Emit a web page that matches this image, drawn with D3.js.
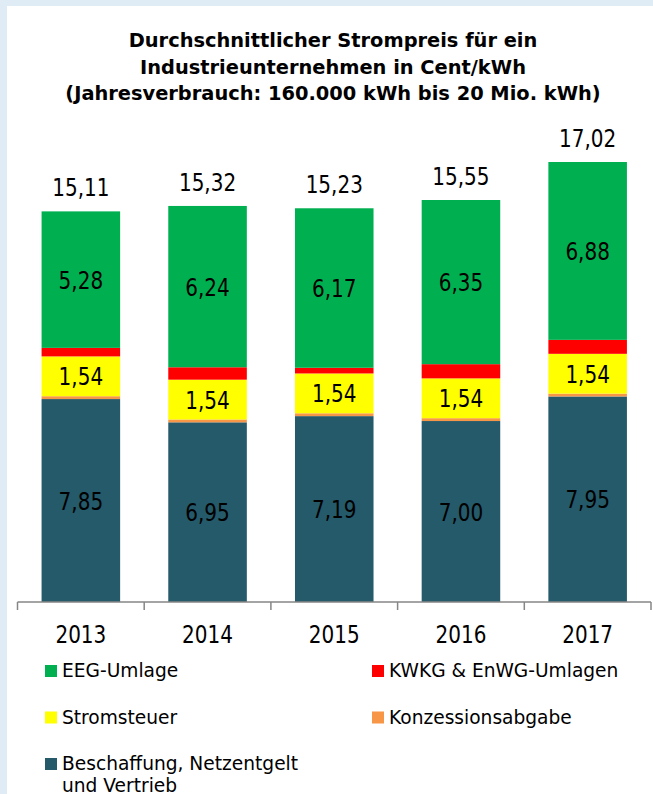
<!DOCTYPE html>
<html>
<head>
<meta charset="utf-8">
<script src="https://cdn.jsdelivr.net/npm/d3@7"></script>
<style>
  body { margin: 0; background: #dfebf5; }
  svg { display: block; }
</style>
</head>
<body>
<div id="chart"></div>
<script>
// data
var years = ["2013", "2014", "2015", "2016", "2017"];
var beschaffung = [7.85, 6.95, 7.19, 7.00, 7.95];
var konzession = [0.11, 0.11, 0.11, 0.11, 0.11];
var stromsteuer = [1.54, 1.54, 1.54, 1.54, 1.54];
var kwkg = [0.33, 0.48, 0.22, 0.55, 0.54];
var eeg = [5.28, 6.24, 6.17, 6.35, 6.88];
var totals = [15.11, 15.32, 15.23, 15.55, 17.02];

var titleLines = ["Durchschnittlicher Strompreis für ein",
                  "Industrieunternehmen in Cent/kWh",
                  "(Jahresverbrauch: 160.000 kWh bis 20 Mio. kWh)"];

var series = [
  {key: "beschaffung", name: "Beschaffung, Netzentgelt|und Vertrieb", values: beschaffung, color: "#245a6a", label: true},
  {key: "konzession", name: "Konzessionsabgabe", values: konzession, color: "#f79646", label: false},
  {key: "stromsteuer", name: "Stromsteuer", values: stromsteuer, color: "#ffff00", label: true},
  {key: "kwkg", name: "KWKG & EnWG-Umlagen", values: kwkg, color: "#ff0000", label: false},
  {key: "eeg", name: "EEG-Umlage", values: eeg, color: "#00b050", label: true}
];

var W = 653, H = 794;
var font = "Tahoma, 'DejaVu Sans', Verdana, sans-serif";
var fmt = function(v){ return d3.format(".2f")(v).replace(".", ","); };

var svg = d3.select("#chart").append("svg")
    .attr("width", W)
    .attr("height", H);

// white panel inside the light blue frame
svg.append("rect")
    .attr("x", 7).attr("y", 6)
    .attr("width", W - 7).attr("height", H - 6)
    .attr("fill", "#ffffff");

// text is narrower in the reference, so squeeze it horizontally
function addText(g, x, y, txt, size, weight, anchor, sx){
  return g.append("text")
      .attr("transform", "translate(" + x + "," + y + ") scale(" + (sx || 0.8) + ",1)")
      .attr("text-anchor", anchor || "middle")
      .style("font-family", font)
      .style("font-size", size + "px")
      .style("font-weight", weight || "normal")
      .attr("fill", "#000")
      .text(txt);
}

// title
titleLines.forEach(function(t, i){
  addText(svg, 333, 47 + i * 26.5, t, 20, "bold", "middle", 0.97);
});

// scales
var x = d3.scaleBand()
    .domain(years)
    .range([17.5, 651]);

var y = d3.scaleLinear()
    .domain([0, 17.02])
    .range([602, 162]);

var barW = x.bandwidth() * 0.62;

// stack
var table = years.map(function(yr, i){
  var row = {year: yr};
  series.forEach(function(s){ row[s.key] = s.values[i]; });
  return row;
});
var stacked = d3.stack().keys(series.map(function(s){ return s.key; }))(table);

var layers = svg.selectAll("g.layer")
    .data(stacked)
    .enter()
    .append("g")
      .attr("class", "layer")
      .attr("fill", function(d, i){ return series[i].color; });

layers.selectAll("rect")
    .data(function(d){ return d; })
    .enter()
    .append("rect")
      .attr("x", function(d){ return x(d.data.year) + (x.bandwidth() - barW) / 2; })
      .attr("y", function(d){ return y(d[1]); })
      .attr("width", barW)
      .attr("height", function(d){ return y(d[0]) - y(d[1]); });

// segment labels
stacked.forEach(function(layer, i){
  if (!series[i].label) return;
  layer.forEach(function(d){
    var cx = x(d.data.year) + x.bandwidth() / 2;
    var cy = (y(d[0]) + y(d[1])) / 2;
    addText(svg, cx, cy + 9, fmt(d[1] - d[0]), 25);
  });
});

// totals above bars
years.forEach(function(yr, i){
  addText(svg, x(yr) + x.bandwidth() / 2, y(totals[i]) - 15, fmt(totals[i]), 25);
});

// x axis
var axis = svg.append("g")
    .attr("transform", "translate(0," + y(0) + ")");
axis.append("line")
    .attr("x1", 17.5).attr("x2", 651)
    .attr("stroke", "#868686").attr("stroke-width", 1.5);
axis.selectAll("line.tick")
    .data(years.concat(["end"]))
    .enter()
    .append("line")
      .attr("class", "tick")
      .attr("x1", function(d){ return d === "end" ? 651 : x(d); })
      .attr("x2", function(d){ return d === "end" ? 651 : x(d); })
      .attr("y1", 0).attr("y2", 8)
      .attr("stroke", "#868686").attr("stroke-width", 1.5);
years.forEach(function(yr){
  addText(axis, x(yr) + x.bandwidth() / 2, 41, yr, 25);
});

// legend
var legendOrder = ["eeg", "kwkg", "stromsteuer", "konzession", "beschaffung"];
legendOrder.forEach(function(k, i){
  var s = series.find(function(d){ return d.key === k; });
  var col = i % 2, row = Math.floor(i / 2);
  var lx = col === 0 ? 45 : 372;
  var ly = 665 + row * 46.5;
  svg.append("rect")
      .attr("x", lx).attr("y", ly)
      .attr("width", 12).attr("height", 12)
      .attr("fill", s.color);
  s.name.split("|").forEach(function(part, j){
    addText(svg, lx + 17, ly + 12 + j * 22, part, 19, "normal", "start", 0.98);
  });
});
</script>
</body>
</html>
